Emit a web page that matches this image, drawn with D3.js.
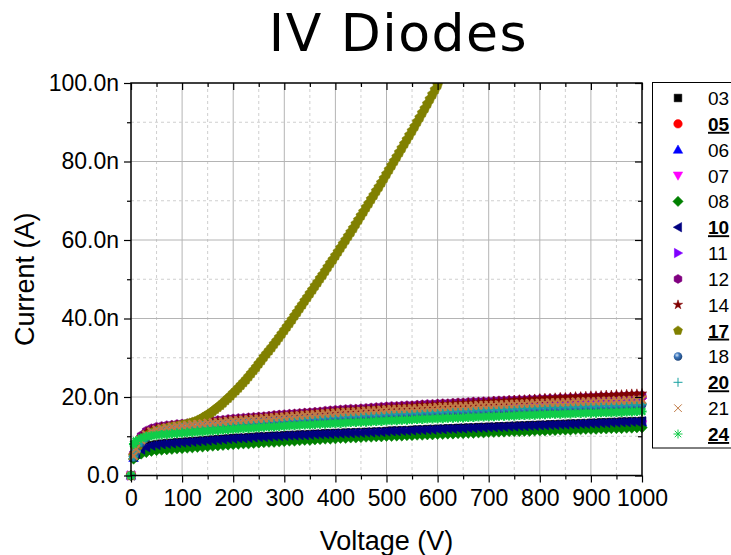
<!DOCTYPE html>
<html>
<head>
<meta charset="utf-8">
<script src="https://cdn.jsdelivr.net/npm/d3@7"></script>
<style>
  body { margin: 0; background: #fff; }
  svg { display: block; }
</style>
</head>
<body>
<svg id="chart" width="731" height="555"></svg>
<script>
// Voltage sweep (V)
const voltage = [0,5,10,20,30,40,50,60,70,80,90,100,110,120,130,140,150,160,170,180,190,200,210,220,230,240,250,260,270,280,290,300,310,320,330,340,350,360,370,380,390,400,410,420,430,440,450,460,470,480,490,500,510,520,530,540,550,560,570,580,590,600,610,620,630,640,650,660,670,680,690,700,710,720,730,740,750,760,770,780,790,800,810,820,830,840,850,860,870,880,890,900,910,920,930,940,950,960,970,980,990,1000];
// Finer sweep used for diode 17 (stops once it goes off scale)
const voltage17 = [0,5,10,15,20,25,30,35,40,45,50,55,60,65,70,75,80,85,90,95,100,105,110,115,120,125,130,135,140,145,150,155,160,165,170,175,180,185,190,195,200,205,210,215,220,225,230,235,240,245,250,255,260,265,270,275,280,285,290,295,300,305,310,315,320,325,330,335,340,345,350,355,360,365,370,375,380,385,390,395,400,405,410,415,420,425,430,435,440,445,450,455,460,465,470,475,480,485,490,495,500,505,510,515,520,525,530,535,540,545,550,555,560,565,570,575,580,585,590,595,600];

// Leakage current per diode (nA), one value per voltage step
const current03 = [0,4.9,5.7,6.7,7.3,7.7,7.9,8.1,8.2,8.3,8.4,8.5,
  8.6,8.7,8.8,8.9,9.0,9.1,9.2,9.3,9.4,9.5,
  9.6,9.6,9.7,9.8,9.9,9.9,10.0,10.1,10.1,10.2,
  10.3,10.3,10.4,10.4,10.5,10.6,10.6,10.7,10.7,10.8,
  10.8,10.9,10.9,11.0,11.0,11.1,11.1,11.2,11.2,11.3,
  11.4,11.4,11.5,11.5,11.6,11.7,11.7,11.8,11.8,11.9,
  11.9,12.0,12.0,12.1,12.1,12.2,12.2,12.3,12.3,12.4,
  12.4,12.5,12.5,12.6,12.6,12.7,12.7,12.8,12.8,12.9,
  12.9,13.0,13.0,13.1,13.1,13.2,13.2,13.3,13.3,13.4,
  13.4,13.5,13.5,13.6,13.6,13.7,13.7,13.8,13.8,13.9];
const current05 = [0,5.1,7.1,9.7,10.9,11.5,11.9,12.2,12.4,12.6,12.7,12.8,
  12.9,13.1,13.2,13.3,13.5,13.6,13.7,13.8,14.0,14.1,
  14.2,14.3,14.5,14.6,14.7,14.8,14.9,15.1,15.2,15.3,
  15.4,15.5,15.6,15.7,15.8,15.9,16.0,16.1,16.2,16.3,
  16.4,16.5,16.6,16.6,16.7,16.8,16.9,17.0,17.1,17.2,
  17.3,17.3,17.4,17.5,17.5,17.6,17.7,17.8,17.8,17.9,
  18.0,18.0,18.1,18.2,18.2,18.3,18.4,18.4,18.5,18.5,
  18.6,18.7,18.7,18.8,18.8,18.9,18.9,19.0,19.0,19.1,
  19.1,19.2,19.2,19.3,19.3,19.4,19.4,19.5,19.5,19.6,
  19.6,19.7,19.7,19.7,19.8,19.8,19.9,19.9,20.0,20.0];
const current06 = [0,4.5,5.3,6.3,6.9,7.3,7.5,7.7,7.8,7.9,8.0,8.1,
  8.2,8.3,8.4,8.5,8.6,8.7,8.8,8.9,9.0,9.1,
  9.2,9.2,9.3,9.4,9.5,9.5,9.6,9.7,9.7,9.8,
  9.9,9.9,10.0,10.0,10.1,10.2,10.2,10.3,10.3,10.4,
  10.4,10.5,10.5,10.6,10.6,10.7,10.7,10.8,10.8,10.9,
  11.0,11.0,11.1,11.1,11.2,11.3,11.3,11.4,11.4,11.5,
  11.5,11.6,11.6,11.7,11.7,11.8,11.8,11.9,11.9,12.0,
  12.0,12.1,12.1,12.2,12.2,12.3,12.3,12.4,12.4,12.5,
  12.5,12.6,12.6,12.7,12.7,12.8,12.8,12.9,12.9,13.0,
  13.0,13.1,13.1,13.2,13.2,13.3,13.3,13.4,13.4,13.5];
const current07 = [0,4.6,5.4,6.2,6.7,7.0,7.2,7.3,7.4,7.5,7.6,7.7,
  7.8,7.9,8.0,8.1,8.2,8.3,8.4,8.5,8.6,8.7,
  8.8,8.9,8.9,9.0,9.1,9.2,9.3,9.3,9.4,9.5,
  9.6,9.6,9.7,9.8,9.8,9.9,10.0,10.1,10.1,10.2,
  10.3,10.3,10.4,10.4,10.5,10.6,10.6,10.7,10.7,10.8,
  10.8,10.9,10.9,11.0,11.0,11.1,11.1,11.2,11.2,11.3,
  11.3,11.4,11.4,11.5,11.5,11.6,11.6,11.7,11.7,11.8,
  11.8,11.9,11.9,12.0,12.0,12.0,12.1,12.1,12.2,12.2,
  12.2,12.3,12.3,12.4,12.4,12.4,12.5,12.5,12.6,12.6,
  12.6,12.7,12.7,12.8,12.8,12.8,12.9,12.9,13.0,13.0];
const current08 = [0,4.2,4.8,5.5,5.9,6.2,6.4,6.5,6.6,6.7,6.8,6.9,
  7.0,7.1,7.2,7.3,7.4,7.5,7.6,7.7,7.8,7.9,
  8.0,8.1,8.1,8.2,8.3,8.4,8.5,8.5,8.6,8.7,
  8.8,8.8,8.9,9.0,9.0,9.1,9.2,9.3,9.3,9.4,
  9.5,9.5,9.6,9.6,9.7,9.8,9.8,9.9,9.9,10.0,
  10.0,10.1,10.1,10.2,10.2,10.3,10.3,10.4,10.4,10.5,
  10.5,10.6,10.6,10.7,10.7,10.8,10.8,10.9,10.9,11.0,
  11.0,11.1,11.1,11.2,11.2,11.2,11.3,11.3,11.4,11.4,
  11.4,11.5,11.5,11.6,11.6,11.6,11.7,11.7,11.8,11.8,
  11.8,11.9,11.9,12.0,12.0,12.0,12.1,12.1,12.2,12.2];
const current10 = [0,4.8,5.6,6.6,7.2,7.6,7.8,8.0,8.1,8.2,8.3,8.4,
  8.5,8.6,8.7,8.8,8.9,9.0,9.1,9.2,9.3,9.4,
  9.5,9.5,9.6,9.7,9.8,9.8,9.9,10.0,10.0,10.1,
  10.2,10.2,10.3,10.3,10.4,10.5,10.5,10.6,10.6,10.7,
  10.7,10.8,10.8,10.9,10.9,11.0,11.0,11.1,11.1,11.2,
  11.3,11.3,11.4,11.4,11.5,11.6,11.6,11.7,11.7,11.8,
  11.8,11.9,11.9,12.0,12.0,12.1,12.1,12.2,12.2,12.3,
  12.3,12.4,12.4,12.5,12.5,12.6,12.6,12.7,12.7,12.8,
  12.8,12.9,12.9,13.0,13.0,13.1,13.1,13.2,13.2,13.3,
  13.3,13.4,13.4,13.5,13.5,13.6,13.6,13.7,13.7,13.8];
const current11 = [0,5.0,7.0,9.5,10.7,11.3,11.7,12.0,12.2,12.4,12.5,12.6,
  12.7,12.9,13.0,13.1,13.3,13.4,13.5,13.6,13.8,13.9,
  14.0,14.1,14.2,14.3,14.4,14.5,14.6,14.8,14.9,15.0,
  15.1,15.2,15.3,15.4,15.5,15.6,15.7,15.8,15.9,16.0,
  16.1,16.2,16.3,16.3,16.4,16.5,16.6,16.7,16.8,16.9,
  17.0,17.0,17.1,17.2,17.2,17.3,17.4,17.5,17.5,17.6,
  17.7,17.7,17.8,17.9,17.9,18.0,18.1,18.1,18.2,18.2,
  18.3,18.4,18.4,18.5,18.5,18.6,18.6,18.7,18.7,18.8,
  18.8,18.9,18.9,19.0,19.0,19.1,19.1,19.2,19.2,19.3,
  19.3,19.4,19.4,19.4,19.5,19.5,19.6,19.6,19.7,19.7];
const current12 = [0,5.5,7.6,10.2,11.4,12.0,12.4,12.6,12.8,12.9,13.1,13.2,
  13.3,13.5,13.6,13.7,13.9,14.0,14.1,14.2,14.4,14.5,
  14.6,14.7,14.8,14.9,15.0,15.1,15.2,15.4,15.5,15.6,
  15.7,15.8,15.9,16.0,16.1,16.2,16.3,16.5,16.6,16.7,
  16.8,16.9,17.0,17.0,17.1,17.2,17.3,17.4,17.5,17.6,
  17.7,17.7,17.8,17.9,17.9,18.0,18.1,18.2,18.2,18.3,
  18.4,18.4,18.5,18.6,18.6,18.7,18.8,18.8,18.9,18.9,
  19.0,19.1,19.1,19.2,19.2,19.3,19.3,19.4,19.4,19.5,
  19.5,19.6,19.6,19.7,19.7,19.8,19.8,19.9,19.9,20.0,
  20.0,20.1,20.1,20.1,20.2,20.2,20.3,20.3,20.4,20.4];
const current14 = [0,5.2,7.2,9.8,11.0,11.6,12.0,12.3,12.5,12.7,12.8,12.9,
  13.0,13.2,13.3,13.4,13.6,13.7,13.8,13.9,14.1,14.2,
  14.3,14.4,14.6,14.7,14.8,14.9,15.0,15.2,15.3,15.4,
  15.5,15.6,15.7,15.8,15.9,16.0,16.1,16.2,16.3,16.4,
  16.5,16.6,16.7,16.8,16.8,16.9,17.0,17.1,17.2,17.3,
  17.4,17.5,17.5,17.6,17.7,17.8,17.9,17.9,18.0,18.1,
  18.2,18.2,18.3,18.4,18.4,18.5,18.6,18.6,18.7,18.8,
  18.9,18.9,19.0,19.1,19.2,19.3,19.3,19.4,19.5,19.6,
  19.7,19.7,19.8,19.9,19.9,20.0,20.1,20.1,20.2,20.3,
  20.3,20.4,20.5,20.5,20.6,20.6,20.7,20.8,20.8,20.9];
// Diode 17 breaks down; readings above 100 nA are off scale
const current17 = [0,5.0,6.5,7.8,8.8,9.5,10.0,10.4,10.8,11.1,11.3,11.5,11.7,11.9,12.0,12.2,12.3,12.4,12.5,12.7,12.8,
  12.9,13.1,13.3,13.5,13.7,14.0,14.3,14.7,15.1,15.5,15.9,16.4,16.9,17.4,17.9,18.5,19.1,19.7,20.3,21.0,
  21.6,22.3,23.0,23.7,24.4,25.2,26.0,26.8,27.6,28.5,29.3,30.2,31.0,31.8,32.6,33.5,34.3,35.2,36.1,37.0,
  37.9,38.8,39.7,40.7,41.6,42.6,43.5,44.5,45.4,46.4,47.3,48.3,49.2,50.2,51.1,52.1,53.1,54.1,55.0,56.0,
  57.0,58.0,59.0,60.0,61.0,62.0,63.0,64.1,65.1,66.2,67.2,68.3,69.3,70.4,71.4,72.5,73.5,74.6,75.7,76.8,
  77.9,79.0,80.1,81.2,82.3,83.4,84.5,85.6,86.7,87.8,88.9,90.1,91.2,92.4,93.5,94.7,95.9,97.1,98.3,99.5];
const current18 = [0,4.6,6.0,8.3,9.6,10.4,10.9,11.2,11.4,11.6,11.8,12.0,
  12.1,12.2,12.4,12.5,12.6,12.7,12.8,12.9,13.1,13.2,
  13.3,13.4,13.5,13.6,13.6,13.7,13.8,13.9,14.0,14.1,
  14.2,14.3,14.3,14.4,14.5,14.6,14.6,14.7,14.8,14.9,
  15.0,15.0,15.1,15.2,15.2,15.3,15.4,15.4,15.5,15.6,
  15.7,15.7,15.8,15.8,15.9,15.9,16.0,16.1,16.1,16.2,
  16.2,16.3,16.3,16.4,16.4,16.5,16.5,16.6,16.6,16.7,
  16.7,16.8,16.8,16.9,16.9,17.0,17.0,17.1,17.1,17.2,
  17.2,17.3,17.3,17.3,17.4,17.4,17.5,17.5,17.6,17.6,
  17.6,17.7,17.7,17.7,17.8,17.8,17.9,17.9,18.0,18.0];
const current20 = [0,4.8,6.2,8.5,9.8,10.6,11.1,11.4,11.6,11.8,12.0,12.2,
  12.3,12.4,12.6,12.7,12.8,12.9,13.0,13.1,13.3,13.4,
  13.5,13.6,13.7,13.8,13.8,13.9,14.0,14.1,14.2,14.3,
  14.4,14.5,14.5,14.6,14.7,14.8,14.8,14.9,15.0,15.1,
  15.2,15.2,15.3,15.4,15.4,15.5,15.6,15.6,15.7,15.8,
  15.9,15.9,16.0,16.0,16.1,16.1,16.2,16.3,16.3,16.4,
  16.4,16.5,16.5,16.6,16.6,16.7,16.7,16.8,16.8,16.9,
  16.9,17.0,17.0,17.1,17.1,17.2,17.2,17.3,17.3,17.4,
  17.4,17.5,17.5,17.5,17.6,17.6,17.7,17.7,17.8,17.8,
  17.8,17.9,17.9,17.9,18.0,18.0,18.1,18.1,18.2,18.2];
const current21 = [0,5.0,6.8,9.0,10.4,11.2,11.7,12.0,12.2,12.4,12.6,12.7,
  12.8,13.0,13.1,13.2,13.4,13.5,13.6,13.7,13.9,14.0,
  14.1,14.2,14.3,14.4,14.5,14.6,14.7,14.8,14.9,15.0,
  15.1,15.2,15.3,15.4,15.5,15.6,15.7,15.8,15.9,16.0,
  16.1,16.2,16.2,16.3,16.4,16.5,16.6,16.6,16.7,16.8,
  16.9,16.9,17.0,17.0,17.1,17.1,17.2,17.3,17.3,17.4,
  17.5,17.5,17.6,17.6,17.7,17.7,17.8,17.9,17.9,18.0,
  18.0,18.1,18.1,18.2,18.2,18.3,18.3,18.4,18.4,18.5,
  18.5,18.6,18.6,18.6,18.7,18.7,18.8,18.8,18.9,18.9,
  18.9,19.0,19.0,19.0,19.1,19.1,19.2,19.2,19.3,19.3];
const current24 = [0,8.0,8.8,9.5,9.9,10.1,10.3,10.4,10.5,10.6,10.7,10.8,
  10.9,11.0,11.1,11.2,11.3,11.4,11.5,11.6,11.7,11.8,
  11.9,12.0,12.0,12.1,12.2,12.3,12.4,12.4,12.5,12.6,
  12.7,12.7,12.8,12.9,12.9,13.0,13.1,13.1,13.2,13.3,
  13.3,13.4,13.5,13.5,13.6,13.6,13.7,13.8,13.8,13.9,
  14.0,14.0,14.1,14.1,14.2,14.3,14.3,14.4,14.4,14.5,
  14.5,14.6,14.6,14.7,14.7,14.8,14.8,14.9,14.9,15.0,
  15.0,15.1,15.1,15.2,15.2,15.3,15.3,15.4,15.4,15.5,
  15.5,15.6,15.6,15.6,15.7,15.7,15.8,15.8,15.9,15.9,
  15.9,16.0,16.0,16.0,16.1,16.1,16.2,16.2,16.3,16.3];

const seriesNames  = ["03","05","06","07","08","10","11","12","14","17","18","20","21","24"];
const seriesValues = [current03,current05,current06,current07,current08,current10,current11,
                      current12,current14,current17,current18,current20,current21,current24];
const seriesVoltage = seriesNames.map(n => n === "17" ? voltage17 : voltage);
const seriesColors = ["#000000","#ff0000","#0000ff","#ff00ff","#008000","#000080","#8000ff",
                      "#800080","#800000","#808000","#2f66a8","#17a0a0","#c07a45","#10cc48"];
const seriesShapes = ["square","circle","triangleUp","triangleDown","diamond","triangleLeft","triangleRight",
                      "hexagon","star","pentagon","ball","plus","cross","asterisk"];
const emphasized   = ["05","10","17","20","24"];

const xTicks = [0,100,200,300,400,500,600,700,800,900,1000];
const xMinorTicks = [50,150,250,350,450,550,650,750,850,950];
const yTicks = [0,20,40,60,80,100];
const yTickLabels = ["0.0","20.0n","40.0n","60.0n","80.0n","100.0n"];
const yMinorTicks = [10,30,50,70,90];

const FONT = "'Liberation Sans', Arial, Helvetica, sans-serif";
const svg = d3.select("#chart");
const plot = { left: 131, right: 642, top: 83, bottom: 475.5 };

const x = d3.scaleLinear().domain([0, 1000]).range([plot.left, plot.right]);
const y = d3.scaleLinear().domain([0, 100]).range([plot.bottom, plot.top]);

// ---- defs: clip and shaded ball marker
const defs = svg.append("defs");
defs.append("clipPath").attr("id", "plotClip")
  .append("rect").attr("x", plot.left - 8).attr("y", plot.top)
  .attr("width", plot.right - plot.left + 16).attr("height", plot.bottom - plot.top + 8);
const grad = defs.append("radialGradient").attr("id", "ballFill")
  .attr("cx", "0.38").attr("cy", "0.35").attr("r", "0.7");
grad.append("stop").attr("offset", "0%").attr("stop-color", "#d6e6f8");
grad.append("stop").attr("offset", "40%").attr("stop-color", "#3c76bb");
grad.append("stop").attr("offset", "100%").attr("stop-color", "#1a3f72");

// ---- title
svg.append("text")
  .attr("x", 398.5).attr("y", 50.5)
  .attr("text-anchor", "middle")
  .attr("font-family", "'DejaVu Sans', Verdana, sans-serif")
  .attr("font-size", 52).attr("letter-spacing", 1.5)
  .attr("fill", "#000")
  .text("IV Diodes");

// ---- grid
const grid = svg.append("g");
grid.selectAll("line.gx").data(xTicks.slice(1, -1)).join("line")
  .attr("x1", d => x(d)).attr("x2", d => x(d)).attr("y1", plot.top).attr("y2", plot.bottom)
  .attr("stroke", "#b4b4b4").attr("stroke-width", 1);
grid.selectAll("line.gxm").data(xMinorTicks).join("line")
  .attr("x1", d => x(d)).attr("x2", d => x(d)).attr("y1", plot.top).attr("y2", plot.bottom)
  .attr("stroke", "#cfcfcf").attr("stroke-width", 1).attr("stroke-dasharray", "3,3");
grid.selectAll("line.gy").data(yTicks.slice(1, -1)).join("line")
  .attr("y1", d => y(d)).attr("y2", d => y(d)).attr("x1", plot.left).attr("x2", plot.right)
  .attr("stroke", "#b4b4b4").attr("stroke-width", 1);
grid.selectAll("line.gym").data(yMinorTicks).join("line")
  .attr("y1", d => y(d)).attr("y2", d => y(d)).attr("x1", plot.left).attr("x2", plot.right)
  .attr("stroke", "#cfcfcf").attr("stroke-width", 1).attr("stroke-dasharray", "3,3");

// ---- marker shapes
function poly(pts) { return "M" + pts.map(p => p[0].toFixed(2) + "," + p[1].toFixed(2)).join("L") + "Z"; }
function regular(n, r, start) {
  return poly(d3.range(n).map(k => {
    const a = (start + k * 360 / n) * Math.PI / 180;
    return [r * Math.cos(a), r * Math.sin(a)];
  }));
}
function markerPath(shape, r) {
  switch (shape) {
    case "square": { const s = r * 0.85; return `M${-s},${-s}H${s}V${s}H${-s}Z`; }
    case "circle": return d3.symbol(d3.symbolCircle, Math.PI * (r * 0.95) ** 2)();
    case "ball": return d3.symbol(d3.symbolCircle, Math.PI * (r * 0.95) ** 2)();
    case "triangleUp": return poly([[0, -r * 1.05], [r * 1.05, r * 0.8], [-r * 1.05, r * 0.8]]);
    case "triangleDown": return poly([[0, r * 1.05], [r * 1.05, -r * 0.8], [-r * 1.05, -r * 0.8]]);
    case "triangleLeft": return poly([[-r * 1.05, 0], [r * 0.8, -r * 1.05], [r * 0.8, r * 1.05]]);
    case "triangleRight": return poly([[r * 1.05, 0], [-r * 0.8, -r * 1.05], [-r * 0.8, r * 1.05]]);
    case "diamond": return poly([[0, -r * 1.15], [r * 1.15, 0], [0, r * 1.15], [-r * 1.15, 0]]);
    case "hexagon": return regular(6, r, -90);
    case "pentagon": return regular(5, r * 1.05, -90);
    case "star": return d3.symbol(d3.symbolStar, r * r * 1.35)();
    case "plus": return `M${-r},0H${r}M0,${-r}V${r}`;
    case "cross": return `M${-r * 0.85},${-r * 0.85}L${r * 0.85},${r * 0.85}M${r * 0.85},${-r * 0.85}L${-r * 0.85},${r * 0.85}`;
    case "asterisk": {
      const d = r * 0.72;
      return `M${-r},0H${r}M0,${-r}V${r}M${-d},${-d}L${d},${d}M${d},${-d}L${-d},${d}`;
    }
  }
}
const strokeOnly = new Set(["plus", "cross", "asterisk"]);
function styleMarker(sel, i, lineWidth) {
  const shape = seriesShapes[i], col = seriesColors[i];
  if (strokeOnly.has(shape)) {
    sel.attr("fill", "none").attr("stroke", col).attr("stroke-width", lineWidth);
  } else if (shape === "ball") {
    sel.attr("fill", "url(#ballFill)").attr("stroke", "none");
  } else {
    sel.attr("fill", col).attr("stroke", col).attr("stroke-width", 0.5);
  }
}

// ---- data markers, drawn in legend order so later diodes sit on top
const marks = svg.append("g").attr("clip-path", "url(#plotClip)");
seriesValues.forEach((vals, i) => {
  const volts = seriesVoltage[i];
  const pts = vals.map((c, k) => ({ v: volts[k], c }));
  const g = marks.append("g");
  const p = g.selectAll("path").data(pts).join("path")
    .attr("d", markerPath(seriesShapes[i], seriesShapes[i] === "pentagon" ? 5 : 4.6))
    .attr("transform", d => `translate(${x(d.v).toFixed(2)},${y(d.c).toFixed(2)})`);
  styleMarker(p, i, 2.2);
});

// ---- axes
function styleAxis(g) {
  g.select(".domain").remove();
  g.selectAll(".tick line").attr("stroke", "#000").attr("stroke-width", 1.2);
  g.selectAll(".tick text").attr("font-family", FONT).attr("font-size", 23).attr("fill", "#000");
}
svg.append("g").attr("transform", `translate(0,${plot.bottom})`)
  .call(d3.axisBottom(x).tickValues(xTicks).tickSize(7).tickPadding(7).tickFormat(d => d))
  .call(styleAxis);
svg.append("g").attr("transform", `translate(0,${plot.bottom})`)
  .call(d3.axisBottom(x).tickValues(xMinorTicks).tickSize(4).tickFormat(""))
  .call(styleAxis);
svg.append("g").attr("transform", `translate(${plot.left},0)`)
  .call(d3.axisLeft(y).tickValues(yTicks).tickSize(7).tickPadding(5).tickFormat((d, k) => yTickLabels[k]))
  .call(styleAxis);
svg.append("g").attr("transform", `translate(${plot.left},0)`)
  .call(d3.axisLeft(y).tickValues(yMinorTicks).tickSize(4).tickFormat(""))
  .call(styleAxis);
// inward ticks on top and right edges
svg.append("g").attr("transform", `translate(0,${plot.top})`)
  .call(d3.axisBottom(x).tickValues(xTicks).tickSize(7).tickFormat(""))
  .call(styleAxis);
svg.append("g").attr("transform", `translate(0,${plot.top})`)
  .call(d3.axisBottom(x).tickValues(xMinorTicks).tickSize(4).tickFormat(""))
  .call(styleAxis);
svg.append("g").attr("transform", `translate(${plot.right},0)`)
  .call(d3.axisLeft(y).tickValues(yTicks).tickSize(7).tickFormat(""))
  .call(styleAxis);
svg.append("g").attr("transform", `translate(${plot.right},0)`)
  .call(d3.axisLeft(y).tickValues(yMinorTicks).tickSize(4).tickFormat(""))
  .call(styleAxis);

// frame
svg.append("rect")
  .attr("x", plot.left).attr("y", plot.top)
  .attr("width", plot.right - plot.left).attr("height", plot.bottom - plot.top)
  .attr("fill", "none").attr("stroke", "#000").attr("stroke-width", 1.5);

// ---- axis titles
svg.append("text")
  .attr("x", (plot.left + plot.right) / 2).attr("y", 549.5)
  .attr("text-anchor", "middle").attr("font-family", FONT).attr("font-size", 27).attr("fill", "#000")
  .text("Voltage (V)");
svg.append("text")
  .attr("transform", `translate(34,${(plot.top + plot.bottom) / 2}) rotate(-90)`)
  .attr("text-anchor", "middle").attr("font-family", FONT).attr("font-size", 27).attr("fill", "#000")
  .text("Current (A)");

// ---- legend
const legend = svg.append("g");
legend.append("rect")
  .attr("x", 652.5).attr("y", 82.5).attr("width", 100).attr("height", 365.5)
  .attr("fill", "#fff").attr("stroke", "#000").attr("stroke-width", 1);
const rowY = d3.scaleLinear().domain([0, 13]).range([98, 434]);
seriesNames.forEach((name, i) => {
  const row = legend.append("g").attr("transform", `translate(0,${rowY(i)})`);
  const m = row.append("path").attr("d", markerPath(seriesShapes[i], 4.5))
    .attr("transform", "translate(678,0)");
  styleMarker(m, i, 1);
  const bold = emphasized.includes(name);
  row.append("text")
    .attr("x", 708).attr("y", 7)
    .attr("font-family", FONT).attr("font-size", 19).attr("fill", "#000")
    .attr("font-weight", bold ? "bold" : "normal")
    .attr("text-decoration", bold ? "underline" : null)
    .text(name);
});
</script>
</body>
</html>
